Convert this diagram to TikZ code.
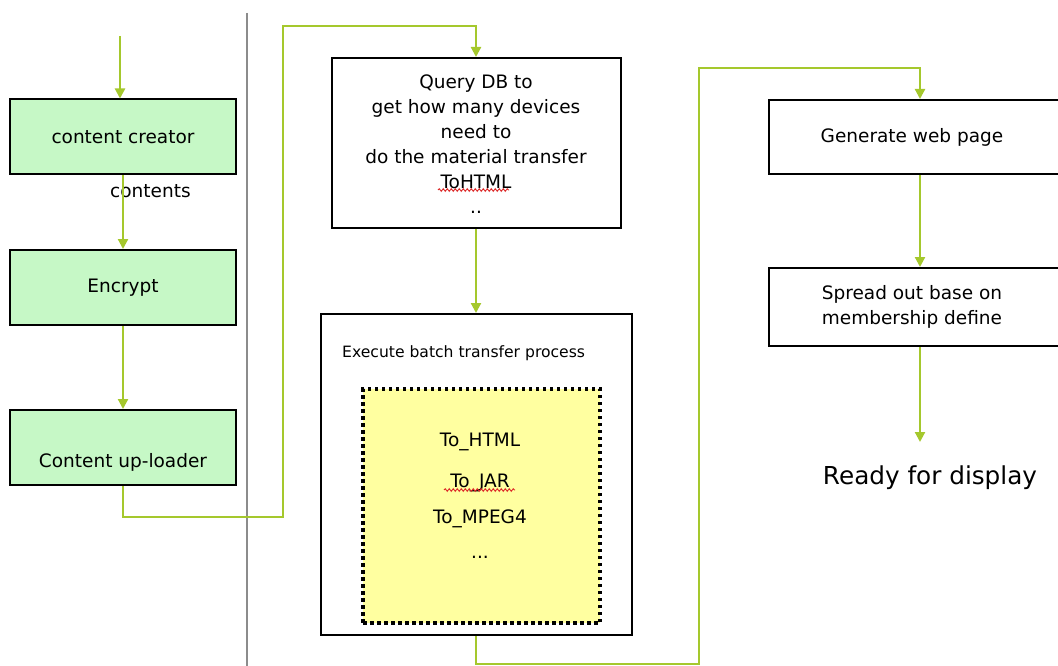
\documentclass[tikz,border=0pt]{standalone}
\usepackage{fontspec}
\setmainfont{DejaVu Sans}
\usetikzlibrary{arrows.meta,decorations.pathmorphing}

\definecolor{flow}{RGB}{165,200,45}
\definecolor{stepgreen}{RGB}{198,248,198}
\definecolor{batchyellow}{RGB}{255,255,160}
\definecolor{divider}{RGB}{140,140,140}
\definecolor{spell}{RGB}{220,40,40}

\tikzset{
  flowline/.style={draw=flow, line width=2.2pt, -{Triangle[width=10pt,length=10pt]}},
  greenbox/.style={draw=black, line width=2pt, fill=stepgreen, rectangle,
    minimum width=226pt, minimum height=75pt, inner sep=0pt,
    font=\fontsize{18.5}{22}\selectfont},
  plainbox/.style={draw=black, line width=2pt, fill=white, rectangle, inner sep=0pt,
    font=\fontsize{18.5}{22}\selectfont},
  bodytext/.style={inner sep=0pt, font=\fontsize{18.5}{22}\selectfont},
  squiggle/.style={draw=spell, line width=0.9pt,
    decorate, decoration={snake, amplitude=1.3pt, segment length=4pt}},
}

\begin{document}
\begin{tikzpicture}[x=1pt,y=-1pt]
  \useasboundingbox (0,0) rectangle (1058,666);

  % divider between the producer side and the server side
  \draw[divider, line width=1.6pt] (247,13) -- (247,666);

  % producer side
  \coordinate (src) at (120,36);
  \node[greenbox] (creator) at (123,137) {content creator};
  \node[greenbox] (encrypt) at (123,287.5) {Encrypt};
  \node[greenbox] (uploader) at (123,447.5) {};
  \node[bodytext] (uploadertext) at (123,462) {Content up-loader};
  \node[bodytext, anchor=west] (contents) at (110,191) {contents};

  \draw[flowline] (src) -- (src |- creator.north);
  \draw[flowline] (creator) -- (encrypt);
  \draw[flowline] (encrypt) -- (uploader);

  % query step
  \node[plainbox, minimum width=289pt, minimum height=170pt] (query) at (476,143) {};
  \node[bodytext, align=center, font=\fontsize{18.5}{25}\selectfont] (querytext) at (476,144)
    {Query DB to\\get how many devices\\need to\\do the material transfer\\ToHTML\\..};
  \draw[squiggle] (438,190) -- (509,190);

  % batch transfer step
  \node[plainbox, minimum width=311pt, minimum height=321pt] (exec) at (476,474.5) {};
  \node[inner sep=0pt, anchor=west, font=\fontsize{15.6}{18}\selectfont] (execlabel) at (342,353)
    {Execute batch transfer process};
  \node[draw=black, line width=3.5pt, dash pattern=on 3.5pt off 3.5pt, fill=batchyellow,
    minimum width=237pt, minimum height=234pt, inner sep=0pt] (batch) at (481.5,506) {};
  \node[bodytext] (tohtml) at (480,442) {To\_HTML};
  \node[bodytext] (tojar) at (480,483) {To\_JAR};
  \node[bodytext] (tompeg) at (480,519) {To\_MPEG4};
  \node[bodytext] (more) at (480,557) {...};
  \draw[squiggle] (444,490) -- (515,490);

  % publishing side
  \node[plainbox, minimum width=302pt, minimum height=74pt] (web) at (920,137) {};
  \node[bodytext] (webtext) at (912,137) {Generate web page};
  \node[plainbox, minimum width=302pt, minimum height=78pt] (spread) at (920,307) {};
  \node[bodytext, align=center, font=\fontsize{18.5}{25}\selectfont] (spreadtext) at (912,307)
    {Spread out base on\\membership define};
  \coordinate (readyin) at (920,442);
  \node[inner sep=0pt, font=\fontsize{24.7}{28}\selectfont] (ready) at (930,478) {Ready for display};

  % connectors across the divider
  \coordinate (bendA) at (283,517);
  \coordinate (bendB) at (283,26);
  \draw[flowline] (uploader.south) |- (bendA) -- (bendB) -| (query.north);
  \draw[flowline] (query.south) -- (exec.north);

  \coordinate (bendC) at (699,664);
  \coordinate (bendD) at (699,68);
  \draw[flowline] (exec.south) |- (bendC) -- (bendD) -| (web.north);
  \draw[flowline] (web.south) -- (spread.north);
  \draw[flowline] (spread.south) -- (readyin);
\end{tikzpicture}
\end{document}
